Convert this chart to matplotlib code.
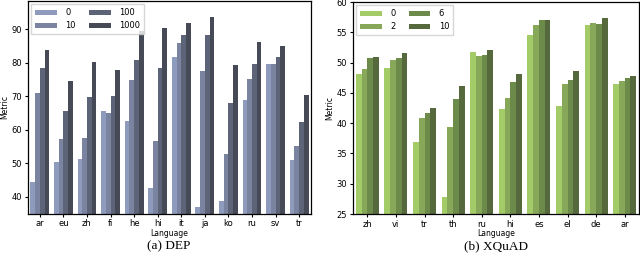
import matplotlib.pyplot as plt
import numpy as np

# (a) DEP
dep_langs = ['ar', 'eu', 'zh', 'fi', 'he', 'hi', 'it', 'ja', 'ko', 'ru', 'sv', 'tr']
dep_hue = ['0', '10', '100', '1000']
dep_0 = [44.3, 50.3, 51.4, 65.6, 62.6, 42.6, 81.8, 36.9, 38.9, 68.9, 79.8, 51.1]
dep_10 = [71.0, 57.2, 57.7, 65.0, 74.8, 56.7, 85.9, 77.7, 52.7, 75.2, 79.6, 55.2]
dep_100 = [78.5, 65.6, 69.9, 70.2, 81.0, 78.5, 88.4, 88.3, 68.0, 79.7, 81.9, 62.4]
dep_1000 = [83.8, 74.7, 80.2, 78.0, 89.6, 90.3, 92.0, 93.6, 79.4, 86.4, 85.2, 70.5]

# (b) XQuAD
xq_langs = ['zh', 'vi', 'tr', 'th', 'ru', 'hi', 'es', 'el', 'de', 'ar']
xq_hue = ['0', '2', '6', '10']
xq_0 = [48.1, 49.1, 36.9, 27.8, 51.8, 42.4, 54.5, 42.9, 56.2, 46.4]
xq_2 = [48.9, 50.5, 40.9, 39.4, 51.1, 44.2, 56.2, 46.4, 56.6, 46.9]
xq_6 = [50.8, 50.8, 41.6, 44.0, 51.2, 46.8, 57.1, 47.1, 56.4, 47.5]
xq_10 = [50.9, 51.5, 42.5, 46.1, 52.1, 48.1, 57.0, 48.6, 57.3, 47.8]

blues = ['#8f9bbd', '#7a84a0', '#5e6478', '#464a56']
greens = ['#a3cc68', '#87a859', '#6c8a4a', '#56693d']


def grouped(ax, langs, series, names, colors, ylim, yticks):
    x = np.arange(len(langs))
    w = 0.8 / len(series)
    for i, (vals, nm, c) in enumerate(zip(series, names, colors)):
        ax.bar(x - 0.4 + w * (i + 0.5), vals, w, color=c, label=nm)
    ax.set_xticks(x)
    ax.set_xticklabels(langs, fontsize=6)
    ax.set_xlim(-0.5, len(langs) - 0.5)
    ax.set_ylim(*ylim)
    ax.set_yticks(yticks)
    ax.tick_params(axis='y', labelsize=6, length=2.5, pad=2)
    ax.tick_params(axis='x', length=2.5, pad=1.5)
    ax.set_xlabel('Language', fontsize=5.5, labelpad=0.5)
    ax.set_ylabel('Metric', fontsize=5.5, labelpad=1)
    for s in ax.spines.values():
        s.set_linewidth(0.9)
    ax.legend(ncol=2, loc='upper left', fontsize=6, handlelength=2.6,
              handleheight=0.6, columnspacing=1.6, borderpad=0.45,
              labelspacing=0.5, handletextpad=1.0, fancybox=False,
              framealpha=0.8, borderaxespad=0.4)


fig = plt.figure(figsize=(6.4, 2.56), dpi=100)
ax1 = fig.add_axes([28 / 640, 1 - 213.6 / 256, 283 / 640, 212.6 / 256])
ax2 = fig.add_axes([353 / 640, 1 - 214 / 256, 286 / 640, 212 / 256])

grouped(ax1, dep_langs, [dep_0, dep_10, dep_100, dep_1000], dep_hue, blues,
        (35, 98.5), [40, 50, 60, 70, 80, 90])
grouped(ax2, xq_langs, [xq_0, xq_2, xq_6, xq_10], xq_hue, greens,
        (25, 60), [25, 30, 35, 40, 45, 50, 55, 60])

fig.text((27 + 142) / 640, 1 - 246.5 / 256, '(a) DEP', ha='center', va='center',
         family='Liberation Serif', fontsize=9.5)
fig.text((353 + 143) / 640, 1 - 246.5 / 256, '(b) XQuAD', ha='center', va='center',
         family='Liberation Serif', fontsize=9.5)

fig.savefig('out.png', dpi=100)
